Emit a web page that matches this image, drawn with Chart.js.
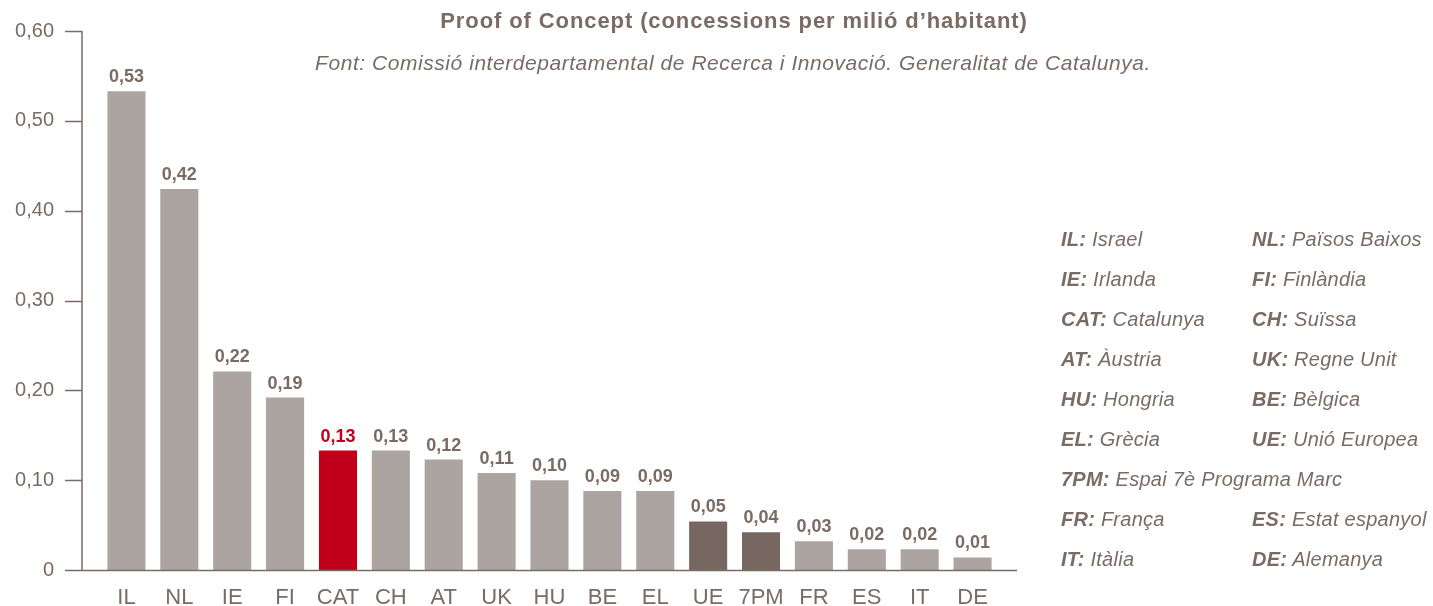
<!DOCTYPE html>
<html>
<head>
<meta charset="utf-8">
<script src="https://cdn.jsdelivr.net/npm/chart.js@4"></script>
<style>
  html, body { margin: 0; padding: 0; background: #fff; }
  #wrap { position: relative; width: 1433px; height: 606px; overflow: hidden; }
  #c { position: absolute; left: 0; top: 0; }
  .txt { position: absolute; font-family: "Liberation Sans", Arial, Helvetica, sans-serif; color: #7a6b64; white-space: nowrap; }
  #title { left: 0; width: 1468px; top: 8px; text-align: center; font-weight: bold; font-size: 22px; letter-spacing: 0.9px; }
  #subtitle { left: 0; width: 1466px; top: 51px; text-align: center; font-style: italic; font-size: 21px; letter-spacing: 0.55px; }
  .leg { font-style: italic; font-size: 20px; line-height: 22px; letter-spacing: 0.25px; }
  .leg b { font-weight: bold; }
</style>
</head>
<body>
<div id="wrap">
  <canvas id="c" width="1433" height="606"></canvas>
  <div id="title" class="txt">Proof of Concept (concessions per milió d’habitant)</div>
  <div id="subtitle" class="txt">Font: Comissió interdepartamental de Recerca i Innovació. Generalitat de Catalunya.</div>
  <div id="legend"></div>
</div>
<script>
// ---- data ----
const categories = ['IL','NL','IE','FI','CAT','CH','AT','UK','HU','BE','EL','UE','7PM','FR','ES','IT','DE'];
const values = [0.533,0.424,0.221,0.192,0.133,0.133,0.123,0.108,0.100,0.088,0.088,0.054,0.042,0.032,0.023,0.023,0.014];
const yTicks = [0, 0.1, 0.2, 0.3, 0.4, 0.5, 0.6];
const legendCodes = ['IL','NL','IE','FI','CAT','CH','AT','UK','HU','BE','EL','UE','7PM','FR','ES','IT','DE'];
const legendNames = ['Israel','Països Baixos','Irlanda','Finlàndia','Catalunya','Suïssa','Àustria','Regne Unit','Hongria','Bèlgica','Grècia','Unió Europea','Espai 7è Programa Marc','França','Estat espanyol','Itàlia','Alemanya'];

// ---- styles ----
const TEXT = '#7a6b64';
const AXIS = '#7a6b64';
const GREY = '#aba4a0';
const DARK = '#766861';
const RED = '#c0001a';
const FONT = '"Liberation Sans", Arial, Helvetica, sans-serif';
const fmt = v => v === 0 ? '0' : v.toFixed(2).replace('.', ',');
const barColor = c => c === 'CAT' ? RED : (c === 'UE' || c === '7PM') ? DARK : GREY;

// ---- legend (HTML text) ----
(function buildLegend() {
  const box = document.getElementById('legend');
  const rows = [];
  let i = 0;
  while (i < legendCodes.length) {
    if (legendCodes[i] === '7PM') { rows.push([i]); i += 1; }
    else { const r = [i, i + 1].filter(k => k < legendCodes.length && legendCodes[k] !== '7PM'); rows.push(r); i += r.length; }
  }
  rows.forEach((r, ri) => {
    r.forEach((k, ci) => {
      const d = document.createElement('div');
      d.className = 'txt leg';
      d.style.left = (ci === 0 ? 1061 : 1252) + 'px';
      d.style.top = (228 + ri * 40) + 'px';
      d.innerHTML = '<b>' + legendCodes[k] + ':</b> ' + legendNames[k];
      box.appendChild(d);
    });
  });
})();

// ---- plugins ----
const axisPlugin = {
  id: 'axisLines',
  afterDraw(chart) {
    const ctx = chart.ctx, y = chart.scales.y;
    const ax = 82, tickL = 65, right = 1017;
    ctx.save();
    ctx.strokeStyle = AXIS;
    ctx.lineWidth = 1.5;
    ctx.beginPath();
    ctx.moveTo(ax, y.getPixelForValue(yTicks[yTicks.length-1]));
    ctx.lineTo(ax, y.getPixelForValue(0));
    yTicks.forEach(t => {
      const py = Math.round(y.getPixelForValue(t)) + 0.5;
      ctx.moveTo(tickL, py);
      ctx.lineTo(t === 0 ? right : ax, py);
    });
    ctx.stroke();
    ctx.restore();
  }
};
const labelPlugin = {
  id: 'valueLabels',
  afterDatasetsDraw(chart) {
    const ctx = chart.ctx;
    const meta = chart.getDatasetMeta(0);
    ctx.save();
    ctx.font = 'bold 18px ' + FONT;
    ctx.textAlign = 'center';
    ctx.textBaseline = 'alphabetic';
    meta.data.forEach((bar, i) => {
      ctx.fillStyle = categories[i] === 'CAT' ? RED : TEXT;
      ctx.fillText(fmt(values[i]), bar.x, bar.y - 9);
    });
    ctx.restore();
  }
};

new Chart(document.getElementById('c'), {
  type: 'bar',
  data: {
    labels: categories,
    datasets: [{
      data: values,
      backgroundColor: categories.map(barColor),
      borderWidth: 0,
      categoryPercentage: 1,
      barPercentage: 0.72
    }]
  },
  options: {
    responsive: false,
    animation: false,
    devicePixelRatio: 1,
    layout: { padding: { top: 31, right: 434, left: 0, bottom: 0 } },
    plugins: { legend: { display: false }, tooltip: { enabled: false }, title: { display: false } },
    scales: {
      y: {
        min: 0, max: 0.6,
        afterFit(s) { s.width = 100; s.paddingTop = 0; s.paddingBottom = 0; },
        afterBuildTicks(s) { s.ticks = yTicks.map(v => ({ value: v })); },
        grid: { display: false, drawTicks: false },
        border: { display: false },
        ticks: { padding: 46, color: TEXT, font: { family: FONT, size: 20 }, callback: v => fmt(v) }
      },
      x: {
        afterFit(s) { s.height = 36; },
        grid: { display: false, drawTicks: false },
        border: { display: false },
        ticks: { padding: 15, color: TEXT, font: { family: FONT, size: 22 }, maxRotation: 0, autoSkip: false }
      }
    }
  },
  plugins: [axisPlugin, labelPlugin]
});
</script>
</body>
</html>
